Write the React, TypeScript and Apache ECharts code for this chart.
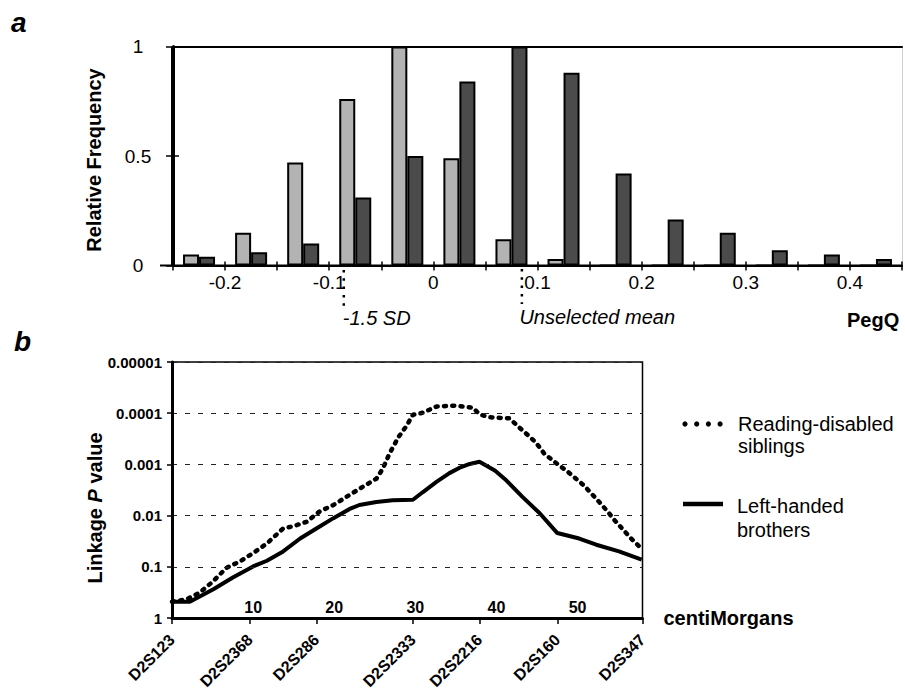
import React, { useEffect, useRef } from 'react';
import * as echarts from 'echarts';

// ---------- Panel a: PegQ histogram ----------
const pegqBins = ['-0.25', '-0.20', '-0.15', '-0.10', '-0.05', '0.00', '0.05', '0.10', '0.15', '0.20', '0.25', '0.30', '0.35', '0.40'];
const lightFreq = [0.05, 0.15, 0.47, 0.76, 1.0, 0.49, 0.12, 0.03, 0, 0, 0, 0, 0, 0];
const darkFreq = [0.04, 0.06, 0.1, 0.31, 0.5, 0.84, 1.0, 0.88, 0.42, 0.21, 0.15, 0.07, 0.05, 0.03];
const pegqTickValues = [-0.2, -0.1, 0, 0.1, 0.2, 0.3, 0.4];
const pegqTickLabels = ['-0.2', '-0.1', '0', '0.1', '0.2', '0.3', '0.4'];
const pegqMin = -0.25;
const pegqMax = 0.45;
const sdCutoff = -0.086;
const unselectedMean = 0.085;

// ---------- Panel b: linkage P values ----------
const markerNames = ['D2S123', 'D2S2368', 'D2S286', 'D2S2333', 'D2S2216', 'D2S160', 'D2S347'];
const markerCM = [0, 9.6, 17.8, 29.7, 37.9, 47.5, 58];
const pValueLabels = ['1', '0.1', '0.01', '0.001', '0.0001', '0.00001'];

const readingDisabled: [number, number][] = [
  [0, 0.48], [1.8, 0.43], [3.4, 0.32], [5.1, 0.19], [6.7, 0.105], [8.4, 0.078], [10.0, 0.054],
  [11.7, 0.035], [13.7, 0.0178], [14.9, 0.0162], [16.6, 0.0132], [18.2, 0.0083], [19.9, 0.0062],
  [21.5, 0.0043], [23.1, 0.003], [25.2, 0.0019], [26.0, 0.0012], [26.8, 0.00062], [27.9, 0.000295],
  [28.9, 0.000178], [29.7, 0.000107], [30.9, 0.000098], [32.6, 0.000074], [34.2, 0.000072],
  [35.0, 0.000071], [37.1, 0.000078], [37.9, 0.000105], [39.1, 0.00012], [41.6, 0.000126],
  [42.8, 0.00019], [43.9, 0.00027], [44.9, 0.00038], [45.9, 0.00062], [47.5, 0.00098],
  [48.8, 0.0014], [49.8, 0.0019], [50.8, 0.0026], [51.9, 0.004], [52.7, 0.0055], [53.7, 0.0083],
  [54.5, 0.012], [55.5, 0.018], [56.6, 0.028], [57.6, 0.04],
];

const leftHanded: [number, number][] = [
  [0, 0.48], [2.2, 0.48], [5.1, 0.275], [7.5, 0.162], [10.0, 0.098], [11.7, 0.076], [13.7, 0.05],
  [15.8, 0.028], [17.8, 0.0178], [19.9, 0.0112], [21.9, 0.0074], [23.1, 0.0062], [25.2, 0.0054],
  [27.2, 0.005], [29.7, 0.0049], [30.9, 0.0035], [32.6, 0.0022], [34.2, 0.00148], [35.4, 0.00117],
  [36.7, 0.00098], [37.9, 0.00089], [39.8, 0.00132], [41.2, 0.00204], [43.2, 0.0043],
  [45.3, 0.0089], [47.5, 0.0219], [50.2, 0.028], [52.3, 0.037], [55.1, 0.05], [57.9, 0.072],
];

const FONT = "'Liberation Sans', Arial, Helvetica, sans-serif";

function pegqLabel(v: number): string {
  const i = pegqTickValues.findIndex((t) => Math.abs(t - v) < 1e-6);
  return i >= 0 ? pegqTickLabels[i] : '';
}

function pLabel(v: number): string {
  const e = Math.round(-Math.log10(v));
  return pValueLabels[e] ?? '';
}

function markerLabel(v: number): string {
  const i = markerCM.findIndex((m) => Math.abs(m - v) < 1e-6);
  return i >= 0 ? markerNames[i] : '';
}

const black = '#000';

const baseOption: any = {
  animation: false,
  backgroundColor: '#fff',
  textStyle: { fontFamily: FONT, color: black },
  grid: [
    { left: 173, top: 46.5, width: 731, height: 219, show: false },
    { left: 172, top: 362, width: 470.5, height: 258.5, show: true, borderColor: black, borderWidth: 1.5 },
  ],
  xAxis: [
    {
      type: 'category', gridIndex: 0, data: pegqBins, position: 'bottom', z: 5,
      axisLine: { show: true, onZero: false, lineStyle: { color: black, width: 2 } },
      axisTick: { show: true, inside: true, length: 4, lineStyle: { color: black, width: 1.5 } },
      axisLabel: { show: false },
    },
    {
      type: 'value', gridIndex: 0, position: 'bottom', min: pegqMin, max: pegqMax, interval: 0.05, z: 5,
      axisLine: { show: true, onZero: false, lineStyle: { color: black, width: 2 } },
      axisTick: { show: true, length: 5, lineStyle: { color: black, width: 1.5 } },
      axisLabel: { fontSize: 19, color: black, margin: 7, fontFamily: FONT, formatter: pegqLabel },
      splitLine: { show: false },
    },
    {
      type: 'value', gridIndex: 0, position: 'top', min: pegqMin, max: pegqMax, z: 5,
      axisLine: { show: true, onZero: false, lineStyle: { color: black, width: 2 } },
      axisTick: { show: false }, axisLabel: { show: false }, splitLine: { show: false },
    },
    {
      type: 'value', gridIndex: 1, position: 'bottom', min: 0, max: 58, interval: 10, z: 5,
      axisLine: { show: true, onZero: false, lineStyle: { color: black, width: 3 } },
      axisTick: { show: false },
      axisLabel: {
        inside: true, margin: 3, fontSize: 16, fontWeight: 'bold', color: black, fontFamily: FONT,
        showMinLabel: false, showMaxLabel: false,
      },
      splitLine: { show: false },
      name: 'centiMorgans', nameLocation: 'end', nameGap: 21,
      nameTextStyle: { fontSize: 20, fontWeight: 'bold', color: black, fontFamily: FONT, verticalAlign: 'middle', padding: [0, 0, 6, 0] },
    },
    {
      type: 'value', gridIndex: 1, position: 'bottom', min: 0, max: 58, z: 5,
      axisLine: { show: false, onZero: false },
      axisTick: { show: true, length: 6, customValues: markerCM, lineStyle: { color: black, width: 1.5 } },
      axisLabel: {
        customValues: markerCM, rotate: 45, margin: 19, fontSize: 16, fontWeight: 'bold', color: black,
        fontFamily: FONT, formatter: markerLabel, showMinLabel: true, showMaxLabel: true,
      },
      splitLine: { show: false },
    },
  ],
  yAxis: [
    {
      type: 'value', gridIndex: 0, position: 'left', min: 0, max: 1, interval: 0.5, z: 5,
      axisLine: { show: true, onZero: false, lineStyle: { color: black, width: 3 } },
      axisTick: { show: true, length: 7, lineStyle: { color: black, width: 1.5 } },
      axisLabel: { fontSize: 19, color: black, margin: 35, align: 'center', fontFamily: FONT },
      splitLine: { show: false },
    },
    {
      type: 'value', gridIndex: 0, position: 'right', min: 0, max: 1,
      axisLine: { show: true, onZero: false, lineStyle: { color: '#d0d0d0', width: 1 } },
      axisTick: { show: false }, axisLabel: { show: false }, splitLine: { show: false },
    },
    {
      type: 'log', logBase: 10, gridIndex: 1, position: 'left', min: 0.00001, max: 1, inverse: true, z: 5,
      axisLine: { show: true, onZero: false, lineStyle: { color: black, width: 3 } },
      axisTick: { show: true, length: 5, lineStyle: { color: black, width: 1.5 } },
      axisLabel: { fontSize: 15, fontWeight: 'bold', color: black, margin: 10, fontFamily: FONT, formatter: pLabel },
      splitLine: { show: true, lineStyle: { color: '#222', width: 1, type: [5, 8] } },
    },
  ],
  series: [
    {
      type: 'bar', name: 'light', xAxisIndex: 0, yAxisIndex: 0, data: lightFreq,
      barWidth: 16, barGap: '0%',
      itemStyle: { color: '#b3b3b3', borderColor: black, borderWidth: 2 },
    },
    {
      type: 'bar', name: 'dark', xAxisIndex: 0, yAxisIndex: 0, data: darkFreq,
      barWidth: 16, barGap: '0%',
      itemStyle: { color: '#4b4b4b', borderColor: black, borderWidth: 2 },
    },
    {
      type: 'line', name: 'Reading-disabled siblings', xAxisIndex: 3, yAxisIndex: 2, data: readingDisabled,
      showSymbol: false, symbol: 'none',
      lineStyle: { color: black, width: 4.5, type: [2, 6.3], cap: 'round' },
    },
    {
      type: 'line', name: 'Left-handed brothers', xAxisIndex: 3, yAxisIndex: 2, data: leftHanded,
      showSymbol: false, symbol: 'none',
      lineStyle: { color: black, width: 4 },
    },
  ],
};

export default function App() {
  const ref = useRef<HTMLDivElement>(null);
  useEffect(() => {
    if (!ref.current) return;
    const chart = echarts.init(ref.current, null, { renderer: 'svg' });
    chart.setOption(baseOption);
    const px = (v: number) => chart.convertToPixel({ xAxisIndex: 1 } as any, v) as number;
    const py = (v: number) => chart.convertToPixel({ yAxisIndex: 0 } as any, v) as number;
    const sdX = px(sdCutoff);
    const meanX = px(unselectedMean);
    const xL = px(pegqMin);
    const xR = px(pegqMax);
    const yB = py(0);
    const yT = py(1);
    const yMid = py(0.5);
    const txt = (x: number, y: number, text: string, extra: any = {}, opts: any = {}) => ({
      type: 'text', x, y, silent: true, ...opts,
      style: { text, fontFamily: FONT, fontSize: 20, fill: black, align: 'left', verticalAlign: 'middle', ...extra },
    });
    const dotX0 = 685;
    const graphic: any[] = [
      txt(11, 22, 'a', { fontSize: 28, fontWeight: 'bold', fontStyle: 'italic' }),
      txt(14, 341, 'b', { fontSize: 28, fontWeight: 'bold', fontStyle: 'italic' }),
      txt(94, 160, 'Relative Frequency', { fontWeight: 'bold', align: 'center' }, { rotation: Math.PI / 2 }),
      {
        type: 'text', x: 94.5, y: 508, rotation: Math.PI / 2, silent: true,
        style: {
          text: '{b|Linkage }{i|P}{b| value}', align: 'center', verticalAlign: 'middle', fill: black,
          rich: {
            b: { fontFamily: FONT, fontSize: 20, fontWeight: 'bold', fill: black },
            i: { fontFamily: FONT, fontSize: 20, fontWeight: 'bold', fontStyle: 'italic', fill: black },
          },
        },
      },
      // panel-a frame: baseline (extending a little left of the y axis) and left axis line
      {
        type: 'line', silent: true, z: 10, shape: { x1: 160, y1: yB, x2: xR, y2: yB },
        style: { stroke: black, lineWidth: 2 },
      },
      {
        type: 'line', silent: true, z: 10, shape: { x1: xL - 0.5, y1: yT, x2: xL - 0.5, y2: yB },
        style: { stroke: black, lineWidth: 3 },
      },
      {
        type: 'line', silent: true, z: 10, shape: { x1: xL, y1: yMid, x2: xL + 6, y2: yMid },
        style: { stroke: black, lineWidth: 1.5 },
      },
      {
        type: 'line', silent: true,
        shape: { x1: sdX, y1: 270, x2: sdX, y2: 307 },
        style: { stroke: black, lineWidth: 2.5, lineDash: [2.5, 5.8] },
      },
      {
        type: 'line', silent: true,
        shape: { x1: meanX, y1: 269, x2: meanX, y2: 304 },
        style: { stroke: black, lineWidth: 2.5, lineDash: [2.5, 5.8] },
      },
      txt(sdX - 1, 318, '-1.5 SD', { fontStyle: 'italic' }),
      txt(meanX - 2.5, 317, 'Unselected mean', { fontStyle: 'italic' }),
      txt(847, 320, 'PegQ', { fontWeight: 'bold' }),
      ...[0, 1, 2, 3].map((i) => ({
        type: 'circle', silent: true, shape: { cx: dotX0 + i * 11.7, cy: 424, r: 2.6 }, style: { fill: black },
      })),
      {
        type: 'line', silent: true, shape: { x1: 683, y1: 504, x2: 723, y2: 504 },
        style: { stroke: black, lineWidth: 4.5 },
      },
      txt(738, 424, 'Reading-disabled'),
      txt(738, 445.7, 'siblings'),
      txt(737, 506, 'Left-handed'),
      txt(737, 529.5, 'brothers'),
    ];
    chart.setOption({ graphic });
    return () => chart.dispose();
  }, []);
  return (
    <div
      ref={ref}
      style={{ position: 'fixed', left: 0, top: 0, width: 905, height: 692, background: '#fff' }}
    />
  );
}
